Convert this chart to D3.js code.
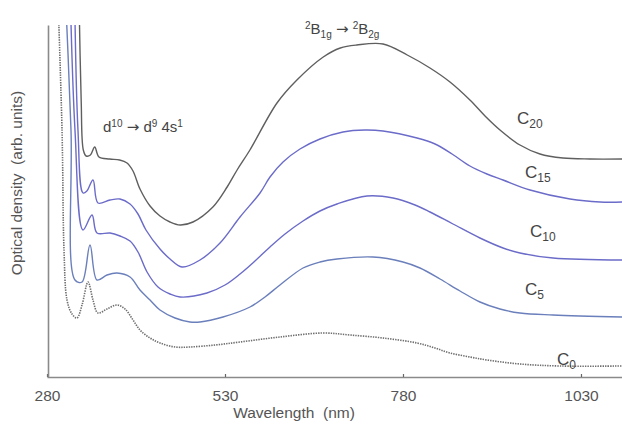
<!DOCTYPE html>
<html>
<head>
<meta charset="utf-8">
<script src="https://cdn.jsdelivr.net/npm/d3@7/dist/d3.min.js"></script>
<style>
  html, body { margin: 0; padding: 0; background: #fff; }
  svg { display: block; font-family: Arial, "Liberation Sans", sans-serif; }
</style>
</head>
<body>
<svg id="chart" width="622" height="432"></svg>
<script>
// Absorption spectra of the C0 … C20 samples, stacked in arbitrary units.
// Each entry is [wavelength (nm), optical density (arb. units)].
const c20 = [[325,3.77],[328,2.77],[331,2.27],[335,2.21],[341,2.22],[347,2.30],[353,2.20],[368,2.18],[382,2.17],[392.4,2.14],[400.8,2.06],[410.6,1.88],[424.7,1.71],[438.7,1.61],[452.8,1.55],[467,1.52],[485,1.55],[513,1.70],[533,1.90],[547,2.07],[565,2.27],[603,2.74],[631,2.97],[668,3.20],[692,3.29],[715,3.32],[752,3.33],[786,3.22],[817.9,3.09],[846,2.95],[874,2.77],[895.2,2.61],[916.2,2.47],[944.3,2.32],[972.4,2.23],[1004.7,2.19],[1042.6,2.18],[1088,2.18]];
const c15 = [[318,4.20],[323.5,2.47],[330.6,1.84],[336,1.86],[344.6,1.97],[351.6,1.74],[368.5,1.77],[382.5,1.78],[396.6,1.73],[407.8,1.63],[419,1.47],[438.7,1.28],[452.8,1.18],[469.6,1.10],[494.9,1.17],[523,1.34],[551.1,1.60],[579.2,1.84],[593.2,2.00],[611.5,2.15],[635.3,2.28],[663.4,2.38],[695.7,2.45],[726.6,2.47],[751.9,2.46],[799.7,2.39],[825,2.33],[848.9,2.23],[874,2.11],[897.9,2.03],[920.5,1.97],[958.4,1.87],[1014.6,1.78],[1056.7,1.75],[1088,1.75]];
const c10 = [[311,4.30],[319.3,2.47],[330.6,1.47],[343.2,1.62],[350.2,1.44],[368.5,1.44],[382.5,1.41],[396.6,1.36],[407.8,1.25],[420.5,1.05],[435.9,0.90],[452.8,0.83],[466.8,0.80],[504.7,0.84],[530,0.92],[551.1,1.03],[572.1,1.16],[593.2,1.30],[614.3,1.43],[639.6,1.56],[663.4,1.66],[687.3,1.73],[729.4,1.81],[766,1.79],[796.9,1.72],[817.9,1.65],[850.2,1.53],[888.1,1.39],[920.5,1.29],[944.3,1.24],[990.7,1.19],[1088,1.17]];
const c5 = [[303,4.30],[313.7,2.47],[319.3,0.97],[329.2,0.95],[340.4,1.32],[350.2,0.97],[364.3,1.02],[378.3,1.04],[396.6,1.00],[410.6,0.87],[424.7,0.77],[438.7,0.67],[459.8,0.59],[480.8,0.55],[494.9,0.55],[527.2,0.60],[565.1,0.70],[586.2,0.80],[607.2,0.92],[639.6,1.09],[663.4,1.15],[687.3,1.18],[737.9,1.20],[780,1.15],[803.9,1.09],[832,0.98],[860.1,0.86],[888.1,0.75],[916.2,0.68],[944.3,0.64],[990.7,0.62],[1088,0.60]];
const c0 = [[293,4.30],[301.1,2.47],[303.9,1.27],[308.1,0.77],[315.1,0.63],[322.1,0.59],[329.2,0.72],[337.6,0.95],[344.6,0.77],[351.6,0.64],[364.3,0.68],[378.3,0.72],[389.6,0.68],[400.8,0.57],[410.6,0.47],[424.7,0.39],[438.7,0.34],[459.8,0.30],[480.8,0.30],[516,0.32],[551.1,0.35],[607.2,0.40],[667.6,0.44],[705.6,0.42],[751.9,0.39],[799.7,0.34],[825,0.29],[846,0.24],[874,0.20],[898,0.17],[944.3,0.13],[1000.5,0.11],[1088,0.11]];

const xTicks = [280, 530, 780, 1030];
const seriesNames = ["C20", "C15", "C10", "C5", "C0"];

const svg = d3.select("#chart");
const plotLeft = 48, plotRight = 622, plotTop = 25, plotBottom = 377;

const x = d3.scaleLinear().domain([280, 1087.6]).range([47, 622]);
const y = d3.scaleLinear().domain([0, 3.52]).range([plotBottom, plotTop]);

svg.append("clipPath").attr("id", "plotClip")
  .append("rect").attr("x", plotLeft).attr("y", plotTop)
  .attr("width", plotRight - plotLeft).attr("height", plotBottom - plotTop);

const line = d3.line()
  .x(d => x(d[0]))
  .y(d => y(d[1]))
  .curve(d3.curveCatmullRom.alpha(0.5));

const curves = [
  { data: c20, color: "#5f5f5f", width: 1.4, dash: null },
  { data: c15, color: "#6b6bc9", width: 1.4, dash: null },
  { data: c10, color: "#6b6bc9", width: 1.4, dash: null },
  { data: c5,  color: "#6a7fbb", width: 1.4, dash: null },
  { data: c0,  color: "#6e6e6e", width: 1.6, dash: "1.4,1.1" }
];

const plot = svg.append("g").attr("clip-path", "url(#plotClip)");
plot.selectAll("path.spectrum")
  .data(curves)
  .join("path")
  .attr("class", "spectrum")
  .attr("fill", "none")
  .attr("stroke", d => d.color)
  .attr("stroke-width", d => d.width)
  .attr("stroke-dasharray", d => d.dash)
  .attr("d", d => line(d.data));

// Axes
const axisColor = "#8a8a8a";
const xAxis = svg.append("g")
  .attr("transform", `translate(0,${plotBottom})`)
  .call(d3.axisBottom(x).tickValues(xTicks).tickSize(-3).tickSizeOuter(0).tickFormat(d3.format("d")));
xAxis.select(".domain").attr("stroke", axisColor).attr("stroke-width", 1.6);
xAxis.selectAll(".tick line").attr("stroke", "#666").attr("stroke-width", 1.2);
xAxis.selectAll(".tick text")
  .attr("y", 19).attr("dy", "0.32em")
  .attr("fill", "#555").attr("font-size", 15.5).attr("font-family", "Arial, 'Liberation Sans', sans-serif");

const yAxis = svg.append("g")
  .attr("transform", `translate(${plotLeft},0)`)
  .call(d3.axisLeft(y).tickValues([]).tickSizeOuter(0));
yAxis.select(".domain").attr("stroke", axisColor).attr("stroke-width", 1.6);

// Axis titles
svg.append("text")
  .attr("x", 294).attr("y", 418)
  .attr("text-anchor", "middle")
  .attr("fill", "#555").attr("font-size", 15.5)
  .attr("xml:space", "preserve")
  .text("Wavelength  (nm)");

svg.append("text")
  .attr("transform", "translate(22,183) rotate(-90)")
  .attr("text-anchor", "middle")
  .attr("fill", "#555").attr("font-size", 15.5)
  .attr("xml:space", "preserve")
  .text("Optical density  (arb. units)");

// Transition annotations
const arrowFont = "'DejaVu Sans', sans-serif";
const ann1 = svg.append("text").attr("x", 103).attr("y", 132)
  .attr("fill", "#444").attr("font-size", 15)
  .attr("xml:space", "preserve");
ann1.append("tspan").text("d");
ann1.append("tspan").attr("dy", -5).attr("font-size", 10).text("10");
ann1.append("tspan").attr("dy", 5).text(" ");
ann1.append("tspan").attr("font-family", arrowFont).attr("font-size", 15).text("\u2192");
ann1.append("tspan").text(" d");
ann1.append("tspan").attr("dy", -5).attr("font-size", 10).text("9");
ann1.append("tspan").attr("dy", 5).text(" 4s");
ann1.append("tspan").attr("dy", -5).attr("font-size", 10).text("1");

const ann2 = svg.append("text").attr("x", 305).attr("y", 34)
  .attr("fill", "#444").attr("font-size", 15)
  .attr("xml:space", "preserve");
ann2.append("tspan").attr("dy", -5).attr("font-size", 10).text("2");
ann2.append("tspan").attr("dy", 5).text("B");
ann2.append("tspan").attr("dy", 4).attr("font-size", 10).text("1g");
ann2.append("tspan").attr("dy", -4).text(" ");
ann2.append("tspan").attr("font-family", arrowFont).attr("font-size", 15).text("\u2192");
ann2.append("tspan").text(" ");
ann2.append("tspan").attr("dy", -5).attr("font-size", 10).text("2");
ann2.append("tspan").attr("dy", 5).text("B");
ann2.append("tspan").attr("dy", 4).attr("font-size", 10).text("2g");

// Sample labels
const labelPos = [[517, 124], [525, 178], [530, 237], [525, 295], [557, 365]];
seriesNames.forEach((name, i) => {
  const t = svg.append("text")
    .attr("x", labelPos[i][0]).attr("y", labelPos[i][1])
    .attr("fill", "#444").attr("font-size", 17);
  t.append("tspan").text(name[0]);
  t.append("tspan").attr("dy", 4).attr("font-size", 12).text(name.slice(1));
});
</script>
</body>
</html>
